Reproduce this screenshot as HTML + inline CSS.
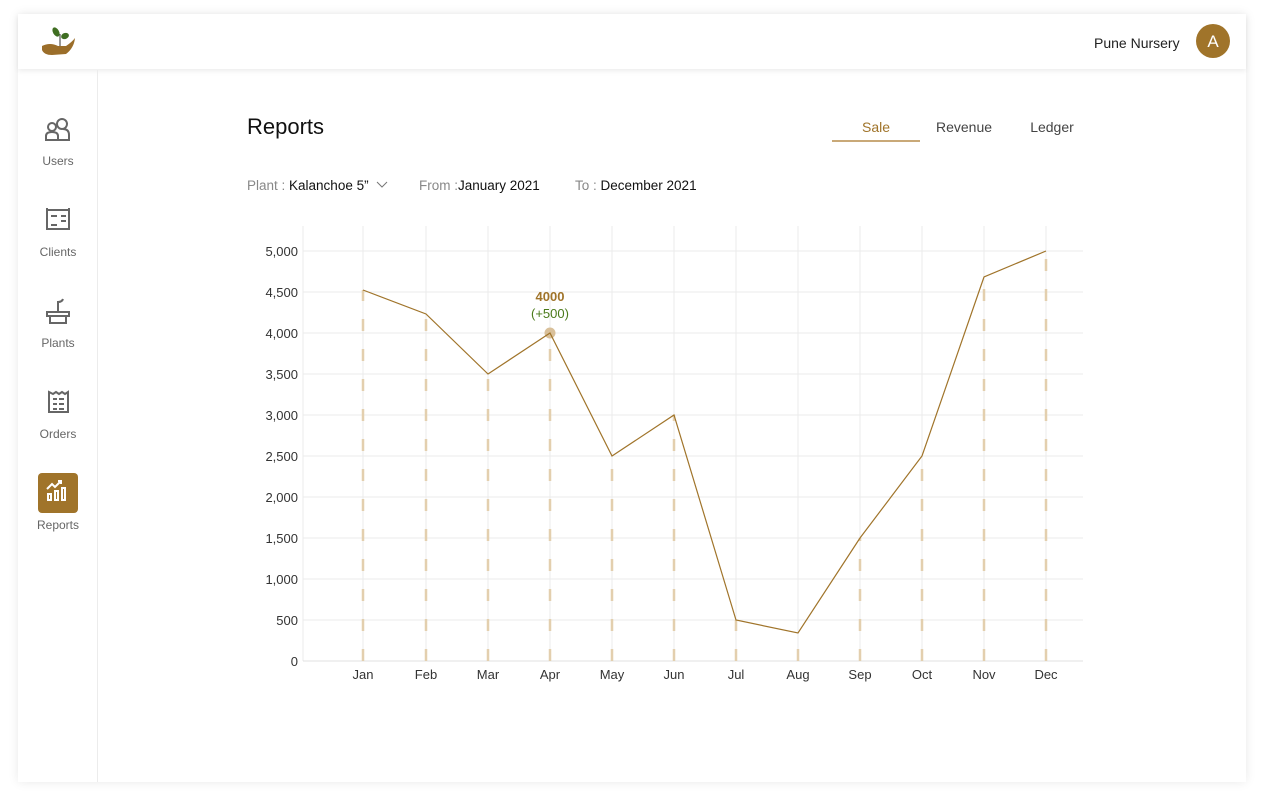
<!DOCTYPE html>
<html><head><meta charset="utf-8"><style>
body{margin:0;width:1264px;height:804px;background:#fff;font-family:"Liberation Sans",sans-serif;overflow:hidden;position:relative}
.card{position:absolute;left:18px;top:14px;width:1228px;height:768px;background:#fff;box-shadow:0 0 10px rgba(0,0,0,0.09)}
.hdr{position:absolute;left:0;top:0;width:1228px;height:55px;box-shadow:0 2px 5px rgba(0,0,0,0.08)}
.side{position:absolute;left:79px;top:56px;width:1px;height:712px;background:#ececec}
.t{position:absolute;white-space:nowrap}
</style></head><body>
<div class="card">
<div class="hdr"></div>
<div class="side"></div>
</div>
<svg width="1264" height="804" style="position:absolute;left:0;top:0" font-family="Liberation Sans, sans-serif">
<!-- logo -->
<path d="M42 46 Q50 42 58 46 L66 46 Q72 42 75 38 Q74 48 66 54 L52 55 Q44 55 42 50 Z" fill="#9B6E2A"/>
<line x1="60" y1="46" x2="60" y2="34" stroke="#555" stroke-width="1.2"/>
<ellipse cx="56" cy="32" rx="3" ry="5" fill="#3f6e22" transform="rotate(-30 56 32)"/>
<ellipse cx="65" cy="36" rx="4" ry="3" fill="#3f6e22" transform="rotate(-20 65 36)"/>
<text x="1094" y="48" font-size="14" fill="#222">Pune Nursery</text>
<circle cx="1213" cy="41" r="17" fill="#A0742A"/>
<text x="1213" y="47" font-size="17" fill="#fff" text-anchor="middle">A</text>
<!-- sidebar icons -->
<g stroke="#666" stroke-width="2" fill="none">
<circle cx="52" cy="127" r="4"/><path d="M46 140 v-4 q0-4 6-4 q6 0 6 4 v4 z"/>
<circle cx="62" cy="124" r="5"/><path d="M58 140 h11 v-5 q0-6-6-6"/>
<rect x="47" y="210" width="22" height="19"/><path d="M47 210 v-2 M69 210 v-2"/><path d="M51 216 h6 M61 216 h5 M61 221 h5 M51 225 h6"/>
<path d="M47 312 h22 v4 h-22 z M50 316 h16 v7 h-16 z M58 312 v-10 q4 0 5 -3"/>
<path d="M49 392 v20 h19 v-20 l-3 2 -3-2 -3 2 -3-2 -3 2 -4-2 z M53 399 h4 M59 399 h5 M53 404 h4 M59 404 h5 M53 409 h4 M59 409 h5"/>
</g>
<rect x="38" y="473" width="40" height="40" rx="4" fill="#A0742A"/>
<g stroke="#fff" stroke-width="2" fill="none"><rect x="48" y="494" width="3" height="6"/><rect x="55" y="491" width="3" height="9"/><rect x="62" y="488" width="3" height="12"/><path d="M47 489 l5-5 3 3 6-6 M58 481 h3 v3"/></g>
<g font-size="12" fill="#666" text-anchor="middle">
<text x="58" y="165">Users</text><text x="58" y="256">Clients</text><text x="58" y="347">Plants</text><text x="58" y="438">Orders</text><text x="58" y="529">Reports</text></g>
<text x="247" y="134" font-size="22" fill="#111">Reports</text>
<text x="876" y="132" font-size="14" fill="#A0742A" text-anchor="middle">Sale</text>
<text x="964" y="132" font-size="14" fill="#444" text-anchor="middle">Revenue</text>
<text x="1052" y="132" font-size="14" fill="#444" text-anchor="middle">Ledger</text>
<line x1="832" y1="141" x2="920" y2="141" stroke="#C9A978" stroke-width="2"/>
<text x="247" y="190" font-size="13.5" fill="#888">Plant : <tspan fill="#111">Kalanchoe 5”</tspan></text>
<path d="M377 182 l5 5 5-5" stroke="#777" fill="none"/>
<text x="419" y="190" font-size="13.5" fill="#888">From :<tspan fill="#111">January 2021</tspan></text>
<text x="575" y="190" font-size="13.5" fill="#888">To : <tspan fill="#111">December 2021</tspan></text>
<!-- grid -->
<g stroke="#ebebeb" stroke-width="1">
<line x1="303" y1="226" x2="303" y2="661"/>
<line x1="363" y1="226" x2="363" y2="661"/><line x1="426" y1="226" x2="426" y2="661"/><line x1="488" y1="226" x2="488" y2="661"/><line x1="550" y1="226" x2="550" y2="661"/><line x1="612" y1="226" x2="612" y2="661"/><line x1="674" y1="226" x2="674" y2="661"/><line x1="736" y1="226" x2="736" y2="661"/><line x1="798" y1="226" x2="798" y2="661"/><line x1="860" y1="226" x2="860" y2="661"/><line x1="922" y1="226" x2="922" y2="661"/><line x1="984" y1="226" x2="984" y2="661"/><line x1="1046" y1="226" x2="1046" y2="661"/>
<line x1="303" y1="251" x2="1083" y2="251"/><line x1="303" y1="292" x2="1083" y2="292"/><line x1="303" y1="333" x2="1083" y2="333"/><line x1="303" y1="374" x2="1083" y2="374"/><line x1="303" y1="415" x2="1083" y2="415"/><line x1="303" y1="456" x2="1083" y2="456"/><line x1="303" y1="497" x2="1083" y2="497"/><line x1="303" y1="538" x2="1083" y2="538"/><line x1="303" y1="579" x2="1083" y2="579"/><line x1="303" y1="620" x2="1083" y2="620"/>
<line x1="303" y1="661" x2="1083" y2="661" stroke="#e0e0e0"/>
</g>
<g font-size="13" fill="#333" text-anchor="end">
<text x="298" y="256">5,000</text><text x="298" y="297">4,500</text><text x="298" y="338">4,000</text><text x="298" y="379">3,500</text><text x="298" y="420">3,000</text><text x="298" y="461">2,500</text><text x="298" y="502">2,000</text><text x="298" y="543">1,500</text><text x="298" y="584">1,000</text><text x="298" y="625">500</text><text x="298" y="666">0</text></g>
<g font-size="13" fill="#333" text-anchor="middle">
<text x="363" y="679">Jan</text><text x="426" y="679">Feb</text><text x="488" y="679">Mar</text><text x="550" y="679">Apr</text><text x="612" y="679">May</text><text x="674" y="679">Jun</text><text x="736" y="679">Jul</text><text x="798" y="679">Aug</text><text x="860" y="679">Sep</text><text x="922" y="679">Oct</text><text x="984" y="679">Nov</text><text x="1046" y="679">Dec</text></g>
<!-- dashes, drawn from bottom up -->
<g stroke="#E3CFAE" stroke-width="2.5" stroke-dasharray="12 18">
<line x1="363" y1="661" x2="363" y2="290"/><line x1="426" y1="661" x2="426" y2="314"/><line x1="488" y1="661" x2="488" y2="374"/><line x1="550" y1="661" x2="550" y2="333"/><line x1="612" y1="661" x2="612" y2="456"/><line x1="674" y1="661" x2="674" y2="415"/><line x1="736" y1="661" x2="736" y2="620"/><line x1="798" y1="661" x2="798" y2="633"/><line x1="860" y1="661" x2="860" y2="538"/><line x1="922" y1="661" x2="922" y2="456"/><line x1="984" y1="661" x2="984" y2="277"/><line x1="1046" y1="661" x2="1046" y2="251"/>
</g>
<circle cx="550" cy="333" r="5.5" fill="#D9C09A"/>
<polyline fill="none" stroke="#A0742A" stroke-width="1.2" points="363,290 426,314 488,374 550,333 612,456 674,415 736,620 798,633 860,538 922,456 984,277 1046,251"/>
<text x="550" y="301" font-size="13" font-weight="bold" fill="#A0742A" text-anchor="middle">4000</text>
<text x="550" y="318" font-size="13" fill="#4a7a1a" text-anchor="middle">(+500)</text>
</svg>
</body></html>
